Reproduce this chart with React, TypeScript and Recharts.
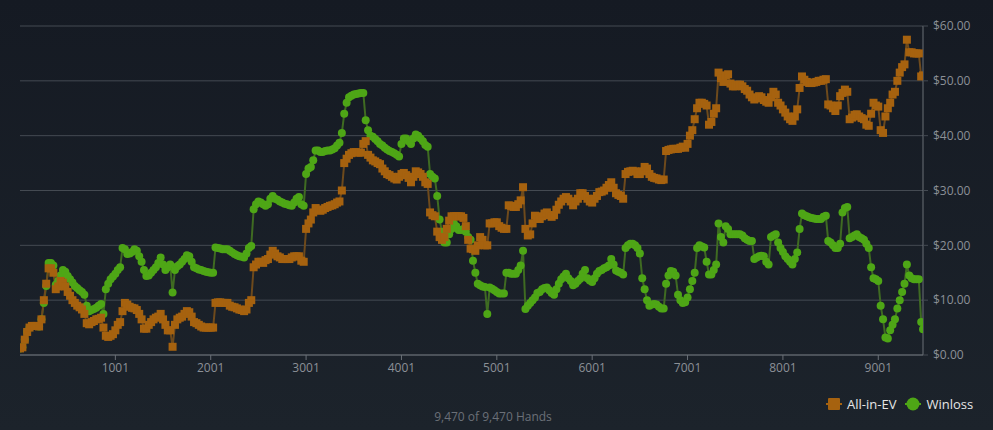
import React from "react";
import { ComposedChart, Line, XAxis, YAxis, CartesianGrid } from "recharts";

const hands = [
  1, 26, 51, 76, 101, 126, 151, 176, 201, 226,
  251, 276, 301, 326, 351, 376, 401, 426, 451, 476,
  501, 526, 551, 576, 601, 626, 651, 676, 701, 726,
  751, 776, 801, 826, 851, 876, 901, 926, 951, 976,
  1001, 1026, 1051, 1076, 1101, 1126, 1151, 1176, 1201, 1226,
  1251, 1276, 1301, 1326, 1351, 1376, 1401, 1426, 1451, 1476,
  1501, 1526, 1551, 1576, 1601, 1626, 1651, 1676, 1701, 1726,
  1751, 1776, 1801, 1826, 1851, 1876, 1901, 1926, 1951, 1976,
  2001, 2026, 2051, 2076, 2101, 2126, 2151, 2176, 2201, 2226,
  2251, 2276, 2301, 2326, 2351, 2376, 2401, 2426, 2451, 2476,
  2501, 2526, 2551, 2576, 2601, 2626, 2651, 2676, 2701, 2726,
  2751, 2776, 2801, 2826, 2851, 2876, 2901, 2926, 2951, 2976,
  3001, 3026, 3051, 3076, 3101, 3126, 3151, 3176, 3201, 3226,
  3251, 3276, 3301, 3326, 3351, 3376, 3401, 3426, 3451, 3476,
  3501, 3526, 3551, 3576, 3601, 3626, 3651, 3676, 3701, 3726,
  3751, 3776, 3801, 3826, 3851, 3876, 3901, 3926, 3951, 3976,
  4001, 4026, 4051, 4076, 4101, 4126, 4151, 4176, 4201, 4226,
  4251, 4276, 4301, 4326, 4351, 4376, 4401, 4426, 4451, 4476,
  4501, 4526, 4551, 4576, 4601, 4626, 4651, 4676, 4701, 4726,
  4751, 4776, 4801, 4826, 4851, 4876, 4901, 4926, 4951, 4976,
  5001, 5026, 5051, 5076, 5101, 5126, 5151, 5176, 5201, 5226,
  5251, 5276, 5301, 5326, 5351, 5376, 5401, 5426, 5451, 5476,
  5501, 5526, 5551, 5576, 5601, 5626, 5651, 5676, 5701, 5726,
  5751, 5776, 5801, 5826, 5851, 5876, 5901, 5926, 5951, 5976,
  6001, 6026, 6051, 6076, 6101, 6126, 6151, 6176, 6201, 6226,
  6251, 6276, 6301, 6326, 6351, 6376, 6401, 6426, 6451, 6476,
  6501, 6526, 6551, 6576, 6601, 6626, 6651, 6676, 6701, 6726,
  6751, 6776, 6801, 6826, 6851, 6876, 6901, 6926, 6951, 6976,
  7001, 7026, 7051, 7076, 7101, 7126, 7151, 7176, 7201, 7226,
  7251, 7276, 7301, 7326, 7351, 7376, 7401, 7426, 7451, 7476,
  7501, 7526, 7551, 7576, 7601, 7626, 7651, 7676, 7701, 7726,
  7751, 7776, 7801, 7826, 7851, 7876, 7901, 7926, 7951, 7976,
  8001, 8026, 8051, 8076, 8101, 8126, 8151, 8176, 8201, 8226,
  8251, 8276, 8301, 8326, 8351, 8376, 8401, 8426, 8451, 8476,
  8501, 8526, 8551, 8576, 8601, 8626, 8651, 8676, 8701, 8726,
  8751, 8776, 8801, 8826, 8851, 8876, 8901, 8926, 8951, 8976,
  9001, 9026, 9051, 9076, 9101, 9126, 9151, 9176, 9201, 9226,
  9251, 9276, 9301, 9326, 9351, 9376, 9401, 9426, 9451, 9470,
];

const allInEV = [
  1.2, 1.4, 2.8, 4.2, 5.0, 5.3, 5.3, 5.3, 5.2, 6.5,
  10, 13, 15.8, 15.8, 15.0, 12, 12.5, 13.5, 13.2, 12.5,
  11.5, 10.8, 10, 9.5, 9, 8.7, 8.3, 7.5, 5.8, 5.6,
  6, 6.2, 6.5, 6.6, 6.8, 5, 3.5, 3.3, 3.5, 3.8,
  4.5, 5.5, 6, 8, 9.5, 9.2, 8.8, 8.6, 8.5, 8.2,
  7.5, 6.5, 4.8, 4.8, 5.5, 6, 6.5, 6.8, 7, 7.5,
  6.5, 5.5, 4.5, 4.5, 1.5, 5.5, 6.5, 6.8, 7, 7.5,
  8, 7.8, 7, 6, 5.8, 5.5, 5.2, 5, 5, 5,
  5, 5, 9.5, 9.6, 9.6, 9.5, 9.5, 9.5, 9, 8.8,
  8.7, 8.5, 8.3, 8.2, 8, 8.3, 9.5, 10, 16, 16.5,
  17, 17, 16.8, 17.3, 17.5, 18.3, 19, 18.5, 18, 17.8,
  17.5, 17.5, 17.5, 17.5, 17.8, 18, 18, 18, 17.2, 17,
  23, 24, 24.7, 26, 26.8, 26.5, 26.3, 26.5, 26.8, 27,
  27.2, 27.3, 27.5, 27.8, 28, 30, 35, 35.8, 36.5, 36.8,
  37, 37, 36.9, 36.9, 38.5, 39, 36.5, 36, 35.5, 35.3,
  35, 34.8, 34, 33.5, 33, 32.8, 32.5, 32.2, 32, 32.5,
  33, 33.2, 32.8, 32.3, 31.5, 32.5, 33.5, 33.3, 33, 32.5,
  31.5, 31.2, 26, 25.5, 25.3, 22.5, 21.5, 21, 21.5, 23,
  24.5, 25.3, 25.3, 25.3, 25.3, 25.3, 25, 23.5, 21, 19.4,
  19.3, 19, 20, 21.5, 21, 20, 20, 24, 24, 24.2,
  24.2, 23.5, 23.2, 23, 23, 27.3, 27.2, 27, 27, 27.5,
  28.2, 30.6, 23, 21.8, 22, 24, 25.4, 25, 24.8, 25.3,
  25.8, 26, 25.5, 25.2, 25.5, 26.5, 27.4, 28, 28.5, 28.8,
  28.5, 28, 27.3, 28, 28.5, 29.5, 29.5, 29, 28.5, 28,
  27.8, 28.5, 29, 29.7, 29.8, 30, 30.5, 31, 31.5, 30.5,
  29.5, 29.2, 29, 28.5, 33, 33.4, 33.5, 33.6, 33.5, 33,
  33, 33.5, 34.3, 34, 33, 32.5, 32.3, 32.2, 32, 31.9,
  32, 37.2, 37.4, 37.5, 37.6, 37.6, 37.6, 37.8, 38, 37.8,
  38.5, 40, 41, 43, 45, 46, 46, 45.8, 45.5, 42,
  42.5, 44, 45, 51.5, 50.5, 49.8, 51, 51.2, 49.5, 49,
  49, 49.3, 49.3, 49, 48.5, 48.2, 47.5, 47, 46.6, 46.8,
  47.2, 47, 46.5, 46.2, 46, 47, 48, 47.5, 46, 45.5,
  44.8, 44.2, 43.5, 43, 42.7, 43.5, 44.8, 48.7, 50.8, 50.2,
  49.8, 49.6, 49.6, 49.7, 49.8, 50, 50, 50.2, 50.3, 45.7,
  45.5, 45, 44.5, 45.5, 47.2, 47.8, 48.4, 48, 43, 43.3,
  43.8, 43.9, 43.5, 43.2, 43, 42, 41.8, 44, 46, 45.5,
  45.3, 41, 40.5, 43.5, 45, 46, 47.5, 48, 50, 51.5,
  52.5, 53, 57.5, 55.2, 55.2, 55, 55, 55, 50.8, 51,
];

const winloss = [
  1.2, 1.4, 2.8, 4.2, 5.0, 5.3, 5.3, 5.3, 5.2, 6.5,
  9.5, 12.6, 16.8, 16.8, 16.3, 12.8, 13.5, 14.5, 15.5, 15.2,
  14.4, 13.8, 13.2, 12.6, 12.2, 11.8, 11.5, 11, 9, 8,
  8.2, 8.4, 8.6, 9, 9.3, 7.5, 12, 13, 13.8, 14.3,
  14.8, 15.5, 16, 19.5, 19.3, 18.4, 18.5, 18.8, 19.3, 19,
  18, 17, 15.5, 14.4, 14.5, 15, 15.5, 16, 16.8, 17.8,
  16.5, 15.5, 16, 16.5, 11.4, 15.5, 16.2, 16.5, 17, 17.5,
  18.2, 18, 17, 16, 15.8, 15.6, 15.5, 15.3, 15.2, 15.1,
  15, 15, 19.6, 19.5, 19.4, 19.3, 19.3, 19.3, 19, 18.7,
  18.4, 18.2, 18, 17.9, 17.8, 18.5, 19.5, 19.9, 26.6, 27.5,
  28, 27.8, 27.5, 27.2, 27.5, 28.5, 29, 28.5, 28.3, 28,
  27.8, 27.6, 27.5, 27.3, 27.2, 27.8, 28.5, 28.8, 27.5, 27.2,
  33, 34, 34.3, 35.5, 37.3, 37.3, 37, 37, 37.2, 37.3,
  37.3, 37.5, 37.7, 38.2, 38.7, 40.5, 44, 46, 47, 47.3,
  47.5, 47.6, 47.7, 47.8, 47.8, 42.8, 41, 40, 39.8, 39.4,
  39, 38.5, 38.2, 37.8, 37.5, 37.2, 37, 36.8, 36.5, 36.2,
  38.5, 39.5, 39.5, 39, 38.5, 39.5, 40.2, 40, 39.5, 39,
  38.3, 38, 33, 32.5, 32.2, 29, 24.7, 22.5, 20.5, 20.5,
  22, 23, 24, 23.5, 22.8, 22.8, 23, 22.5, 21.5, 21,
  17.2, 15, 13, 12.7, 12.5, 12.4, 7.5, 12.3, 12.1, 11.8,
  11.5, 11.2, 11.2, 11.2, 15, 15, 14.8, 14.8, 14.8, 15.5,
  16.3, 19, 8.4, 9, 9.5, 10, 10.5, 11.3, 11.5, 12,
  12.2, 12.3, 11.8, 11.3, 11, 12, 13, 13.8, 14.3, 14.8,
  14, 13.5, 12.7, 13, 13.5, 13.9, 14.8, 15.5, 14, 13.6,
  13.3, 14, 14.8, 15.3, 15.5, 15.8, 16, 16.3, 17.5, 16.5,
  15.4, 15.2, 15, 14.7, 19.5, 20, 20.3, 20.3, 20, 19.5,
  18.5, 14, 12, 10, 9, 9.2, 9.3, 9.2, 8.8, 8.5,
  8.5, 13, 14.5, 15.3, 15.2, 14.5, 11, 10, 9.5, 9.6,
  10.5, 12, 13.5, 15, 19.5, 20, 19.8, 19.6, 17, 14.7,
  14.7, 15.5, 16.5, 24, 21.5, 20.5, 23.5, 23, 22, 22,
  22, 22, 22, 21.8, 21.3, 21, 20.8, 20.8, 17.5, 17.8,
  18, 18.1, 18, 17, 16.5, 21.5, 21.8, 22, 20.5, 19.5,
  18.8, 18, 17.5, 17, 16.5, 17.5, 18.7, 23, 25.8, 25.5,
  25.3, 25.1, 25, 24.9, 24.8, 24.8, 24.8, 25.2, 25.4, 20.8,
  20.5, 20, 19.5, 19.5, 20.3, 26, 26.8, 27, 21.3, 21.5,
  21.8, 22, 21.5, 21.3, 21, 20.3, 19.5, 16, 14, 13.8,
  13.5, 9, 6.5, 3.2, 3, 4.5, 5.5, 6.5, 8.5, 10,
  11.5, 13, 16.5, 14.5, 14, 13.8, 13.8, 13.8, 6, 4.7,
];

const xTicks = [1001, 2001, 3001, 4001, 5001, 6001, 7001, 8001, 9001];
const yTicks = [0, 10, 20, 30, 40, 50, 60];
const seriesNames = ["All-in-EV", "Winloss"];
const footerText = "9,470 of 9,470 Hands";

const ORANGE = "#a6620f";
const ORANGE_LINE = "#6e4a1c";
const GREEN = "#4ea616";
const GREEN_LINE = "#3f6b22";
const GRID = "#444a52";
const AXIS = "#6a7077";
const TICK_TEXT = "#8b9097";
const FONT = "'Open Sans', 'DejaVu Sans', sans-serif";

const data = hands.map((h, i) => ({ hand: h, ev: allInEV[i], wl: winloss[i] }));

const SquareDot = (props: any) => {
  const { cx, cy, index } = props;
  if (cx == null || cy == null) return <g key={`sq-${index}`} />;
  return <rect key={`sq-${index}`} x={cx - 4} y={cy - 4} width={8} height={8} fill={ORANGE} />;
};

const CircleDot = (props: any) => {
  const { cx, cy, index } = props;
  if (cx == null || cy == null) return <g key={`ci-${index}`} />;
  return <circle key={`ci-${index}`} cx={cx} cy={cy} r={4} fill={GREEN} />;
};

export default function App() {
  return (
    <div
      style={{
        position: "fixed",
        left: 0,
        top: 0,
        width: 993,
        height: 430,
        background: "linear-gradient(180deg, #151a23 0%, #1c232b 100%)",
        fontFamily: FONT,
        overflow: "hidden",
      }}
    >
      <ComposedChart
        width={993}
        height={430}
        data={data}
        margin={{ top: 26, right: 0, left: 20, bottom: 45 }}
      >
        <CartesianGrid horizontal={true} vertical={false} stroke={GRID} strokeWidth={1} />
        <XAxis
          dataKey="hand"
          type="number"
          domain={[1, 9470]}
          ticks={xTicks}
          height={30}
          tickSize={5}
          tickMargin={3}
          axisLine={{ stroke: AXIS }}
          tickLine={{ stroke: AXIS }}
          tick={{ fill: TICK_TEXT, fontSize: 12, fontFamily: FONT }}
          interval={0}
          allowDataOverflow
        />
        <YAxis
          orientation="right"
          type="number"
          domain={[0, 60]}
          ticks={yTicks}
          width={70}
          tickSize={5}
          tickMargin={5}
          axisLine={{ stroke: AXIS }}
          tickLine={{ stroke: GRID }}
          tick={{ fill: TICK_TEXT, fontSize: 12, fontFamily: FONT, textAnchor: "start" }}
          tickFormatter={(v: number) => `$${v.toFixed(2)}`}
          interval={0}
        />
        <Line
          type="linear"
          dataKey="wl"
          name={seriesNames[1]}
          stroke={GREEN_LINE}
          strokeWidth={2}
          dot={CircleDot}
          activeDot={false}
          isAnimationActive={false}
        />
        <Line
          type="linear"
          dataKey="ev"
          name={seriesNames[0]}
          stroke={ORANGE_LINE}
          strokeWidth={2}
          dot={SquareDot}
          activeDot={false}
          isAnimationActive={false}
        />
      </ComposedChart>

      <div
        style={{
          position: "absolute",
          left: 826,
          top: 395,
          height: 18,
          display: "flex",
          alignItems: "center",
          fontSize: 13,
          color: "#e6e6e6",
          whiteSpace: "nowrap",
        }}
      >
        <svg width={16} height={14} style={{ marginRight: 5 }}>
          <line x1={0} y1={7} x2={16} y2={7} stroke={ORANGE} strokeWidth={2} />
          <rect x={2} y={1} width={12} height={12} rx={1} fill={ORANGE} />
        </svg>
        <span>{seriesNames[0]}</span>
        <svg width={16} height={14} style={{ marginLeft: 9, marginRight: 5 }}>
          <line x1={0} y1={7} x2={16} y2={7} stroke={GREEN} strokeWidth={2} />
          <circle cx={8} cy={7} r={6.5} fill={GREEN} />
        </svg>
        <span>{seriesNames[1]}</span>
      </div>

      <div
        style={{
          position: "absolute",
          left: 0,
          width: 986,
          top: 408,
          textAlign: "center",
          fontSize: 12,
          color: "#6b7078",
          whiteSpace: "nowrap",
        }}
      >
        {footerText}
      </div>
    </div>
  );
}
